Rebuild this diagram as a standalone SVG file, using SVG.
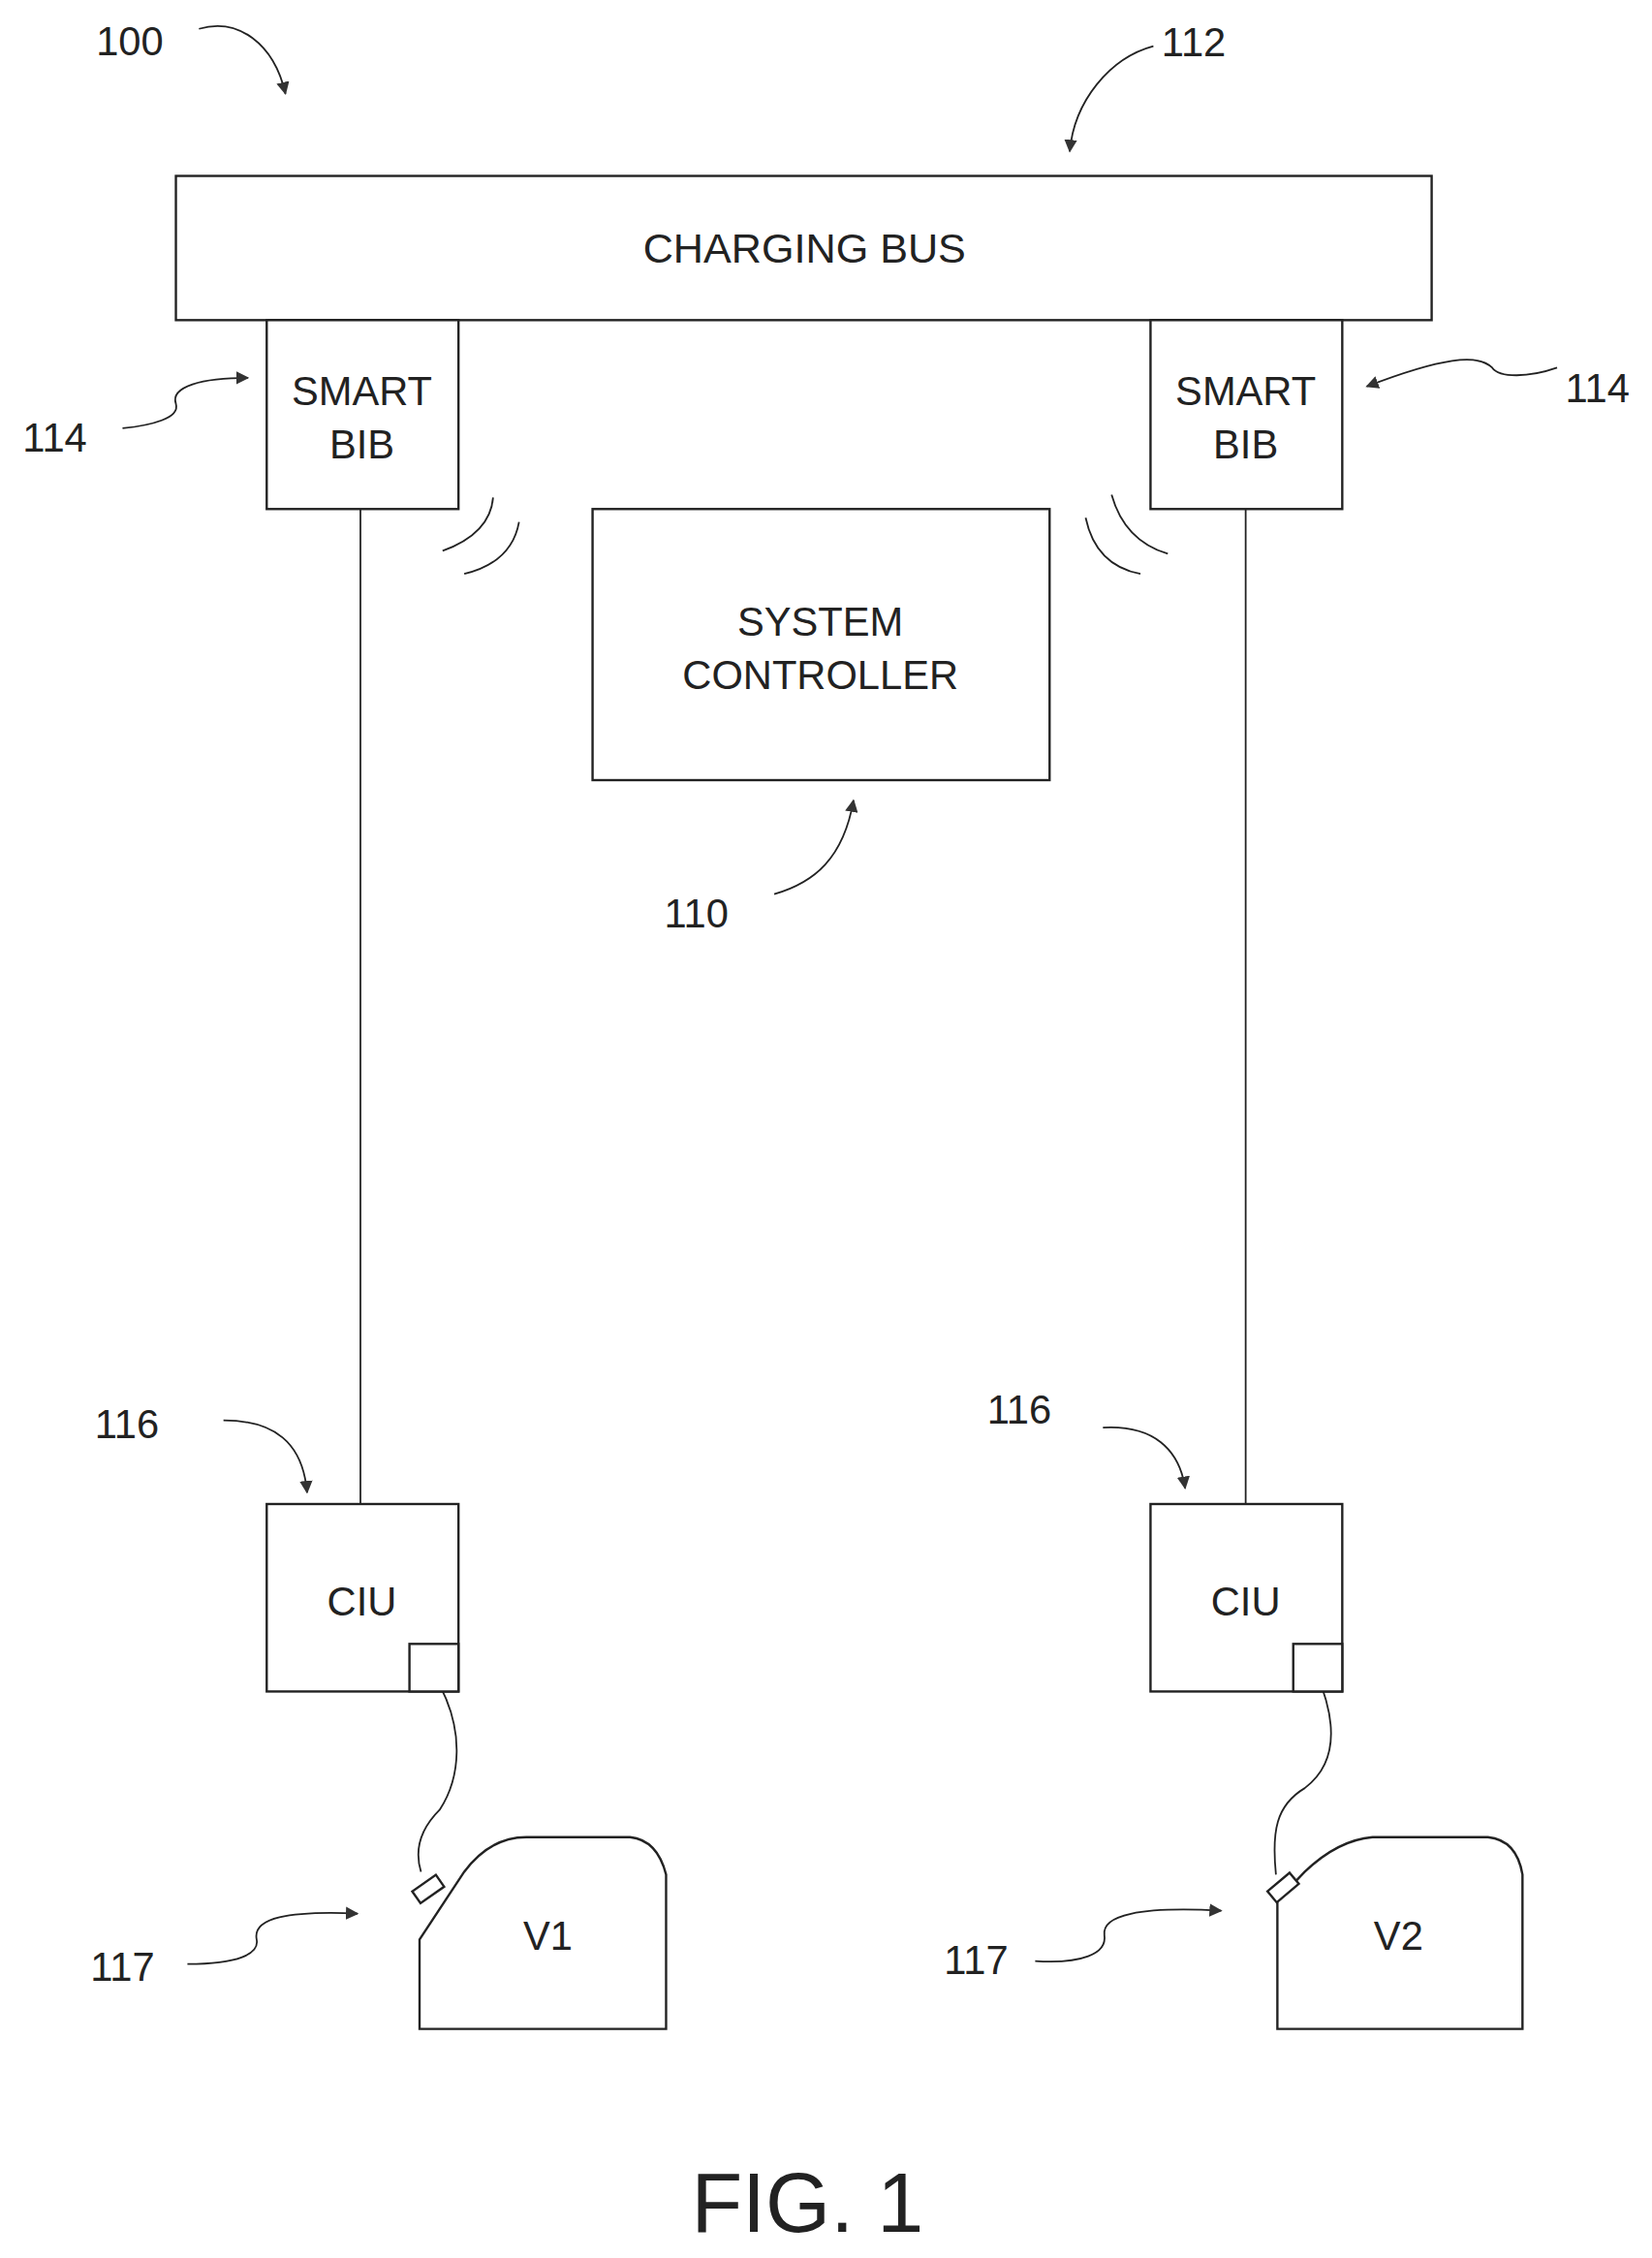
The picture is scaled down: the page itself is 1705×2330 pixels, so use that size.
<svg xmlns="http://www.w3.org/2000/svg" width="1705" height="2330" viewBox="0 0 1705 2330">
<style>
.b{fill:#fff;stroke:#222;stroke-width:1.6}
.l{fill:none;stroke:#222;stroke-width:1.2}
.t{font-family:"Liberation Sans",Arial,sans-serif;fill:#222;text-anchor:middle}
</style>
<defs>
<marker id="a" viewBox="0 0 10 10" refX="9" refY="5" markerWidth="9" markerHeight="9" markerUnits="userSpaceOnUse" orient="auto"><path d="M0,0 L10,5 L0,10 Z" fill="#333"/></marker>
</defs>
<rect width="1705" height="2330" fill="#fff"/>
<g transform="scale(1.488)">
<g id="connectors">
<line class="l" x1="250" y1="353" x2="250" y2="1043"/>
<line class="l" x1="864" y1="353" x2="864" y2="1043"/>
<path class="l" d="M300,1160 C325,1200 318,1235 305,1255 C290,1270 288,1285 292,1298"/>
<path class="l" d="M913,1160 C930,1200 925,1225 905,1240 C885,1252 882,1270 885,1300"/>
<path class="l" d="M342,345 Q340,370 307,382"/>
<path class="l" d="M360,362 Q355,390 322,398"/>
<path class="l" d="M771,343 Q780,375 810,384"/>
<path class="l" d="M753,359 Q760,392 791,398"/>
</g>
<g id="bus"><rect class="b" x="122" y="122" width="871" height="100"/><text class="t" x="558" y="182" font-size="29">CHARGING BUS</text></g>
<g id="bib-left"><rect class="b" x="185" y="222" width="133" height="131"/><text class="t" x="251" y="281" font-size="28">SMART</text><text class="t" x="251" y="318" font-size="28">BIB</text></g>
<g id="bib-right"><rect class="b" x="798" y="222" width="133" height="131"/><text class="t" x="864" y="281" font-size="28">SMART</text><text class="t" x="864" y="318" font-size="28">BIB</text></g>
<g id="controller"><rect class="b" x="411" y="353" width="317" height="188"/><text class="t" x="569" y="441" font-size="28">SYSTEM</text><text class="t" x="569" y="478" font-size="28">CONTROLLER</text></g>
<g id="ciu-left"><rect class="b" x="185" y="1043" width="133" height="130"/><rect class="b" x="284" y="1140" width="34" height="33"/><text class="t" x="251" y="1120" font-size="28">CIU</text></g>
<g id="ciu-right"><rect class="b" x="798" y="1043" width="133" height="130"/><rect class="b" x="897" y="1140" width="34" height="33"/><text class="t" x="864" y="1120" font-size="28">CIU</text></g>
<g id="v1"><path class="b" d="M291,1407 L291,1345 L322,1298 Q340,1274 365,1274 L437,1274 Q456,1276 462,1300 L462,1407 Z"/><rect class="b" x="-5" y="-10" width="10" height="20" transform="translate(297,1310) rotate(55)"/><text class="t" x="380" y="1352" font-size="28">V1</text></g>
<g id="v2"><path class="b" d="M886,1407 L886,1318 L905,1298 Q928,1276 952,1274 L1032,1274 Q1052,1276 1056,1300 L1056,1407 Z"/><rect class="b" x="-5" y="-10" width="10" height="20" transform="translate(890,1309) rotate(50)"/><text class="t" x="970" y="1352" font-size="28">V2</text></g>
<g id="labels">
<text class="t" x="90" y="38" font-size="28">100</text>
<path class="l" d="M138,20 C165,12 190,30 198,65" marker-end="url(#a)"/>
<text class="t" x="828" y="39" font-size="28">112</text>
<path class="l" d="M800,32 C770,40 745,70 742,105" marker-end="url(#a)"/>
<text class="t" x="38" y="313" font-size="28">114</text>
<path class="l" d="M85,297 C105,295 125,290 122,280 C118,268 140,262 172,262" marker-end="url(#a)"/>
<text class="t" x="1108" y="279" font-size="28">114</text>
<path class="l" d="M1080,255 C1060,262 1040,262 1035,255 C1025,245 1000,248 948,268" marker-end="url(#a)"/>
<text class="t" x="483" y="643" font-size="28">110</text>
<path class="l" d="M537,620 C565,612 585,595 592,555" marker-end="url(#a)"/>
<text class="t" x="88" y="997" font-size="28">116</text>
<path class="l" d="M155,985 C190,985 210,1000 213,1035" marker-end="url(#a)"/>
<text class="t" x="707" y="987" font-size="28">116</text>
<path class="l" d="M765,990 C800,988 818,1005 822,1032" marker-end="url(#a)"/>
<text class="t" x="85" y="1374" font-size="28">117</text>
<path class="l" d="M130,1362 C165,1362 180,1355 178,1345 C175,1330 200,1325 248,1327" marker-end="url(#a)"/>
<text class="t" x="677" y="1369" font-size="28">117</text>
<path class="l" d="M718,1360 C750,1362 768,1355 766,1342 C764,1328 790,1322 847,1325" marker-end="url(#a)"/>
<text class="t" x="560" y="1548" font-size="58">FIG. 1</text>
</g>
</g>
</svg>
